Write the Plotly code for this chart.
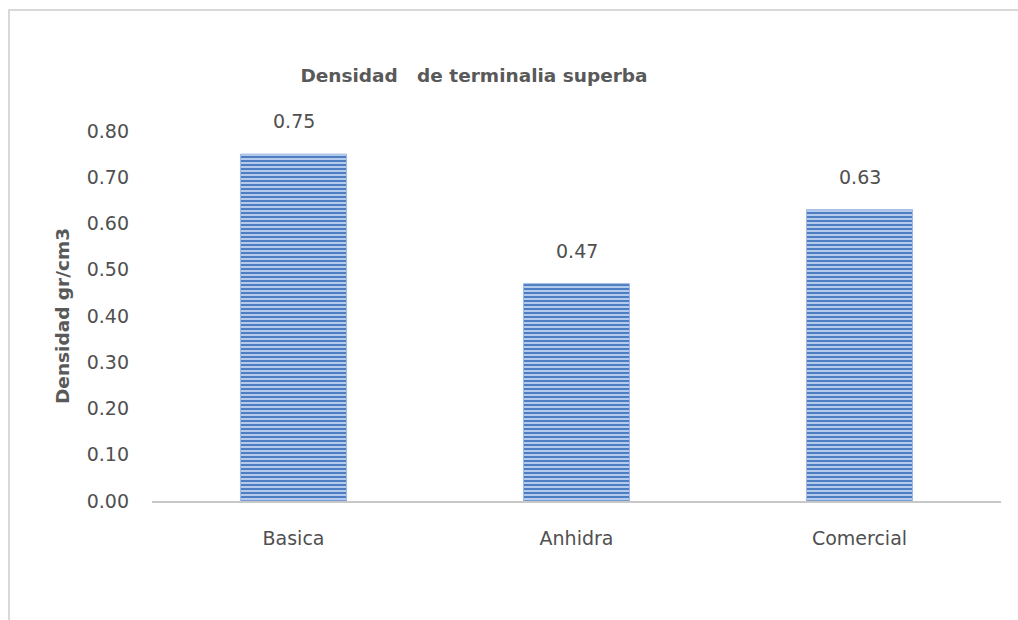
import plotly.graph_objects as go

categories = ["Basica", "Anhidra", "Comercial"]
densidad = [0.75, 0.47, 0.63]
y_ticks = [0.0, 0.1, 0.2, 0.3, 0.4, 0.5, 0.6, 0.7, 0.8]
y_tick_labels = ["0.00", "0.10", "0.20", "0.30", "0.40", "0.50", "0.60", "0.70", "0.80"]

W, H = 1018, 620
L, R, T, B = 152, 17, 131, 119
pw, ph = W - L - R, H - T - B
FONT = "DejaVu Sans, Verdana, sans-serif"

fig = go.Figure()
fig.add_trace(go.Bar(
    x=categories, y=densidad, width=0.375,
    marker=dict(
        color="#a9c2e8",
        line=dict(color="#9db8e2", width=1),
        pattern=dict(shape="-", size=4, solidity=0.5, fgcolor="#4f7dc2", bgcolor="#b4cbee", fillmode="replace"),
    ),
    hoverinfo="x+y",
))

for c, v in zip(categories, densidad):
    fig.add_annotation(x=c, y=v, text=f"{v:.2f}", showarrow=False,
                       yanchor="bottom", yshift=20,
                       font=dict(family=FONT, size=19, color="#505050"))

fig.update_layout(
    width=W, height=H,
    margin=dict(l=L, r=R, t=T, b=B),
    paper_bgcolor="white", plot_bgcolor="white",
    showlegend=False,
    title=dict(text="<b>Densidad &nbsp;&nbsp;de terminalia superba</b>",
               x=(474 - L) / pw, xref="paper", xanchor="center",
               y=1 - 76 / H, yref="container", yanchor="middle",
               font=dict(family=FONT, size=18.5, color="#595959")),
    font=dict(family=FONT, size=19, color="#595959"),
    xaxis=dict(showgrid=False, showline=True, linecolor="#c8c8c8", linewidth=2,
               ticks="", tickfont=dict(family=FONT, size=19, color="#505050"), ticklabelstandoff=19),
    yaxis=dict(range=[0, 0.8], tickvals=y_ticks, ticktext=y_tick_labels,
               showgrid=False, zeroline=False, showline=False, ticks="",
               tickfont=dict(family=FONT, size=19, color="#505050"), ticklabelstandoff=22,
               title=dict(text="<b>Densidad gr/cm3</b>", standoff=12,
                          font=dict(family=FONT, size=18.5, color="#595959"))),
    shapes=[dict(type="rect", xref="paper", yref="paper",
                 x0=(9 - L) / pw, x1=(W + 20 - L) / pw,
                 y0=-(B + 20) / ph, y1=(H - 10 - B) / ph,
                 line=dict(color="#d9d9d9", width=2), fillcolor="rgba(0,0,0,0)", layer="below")],
)

fig.write_html("out.html")
